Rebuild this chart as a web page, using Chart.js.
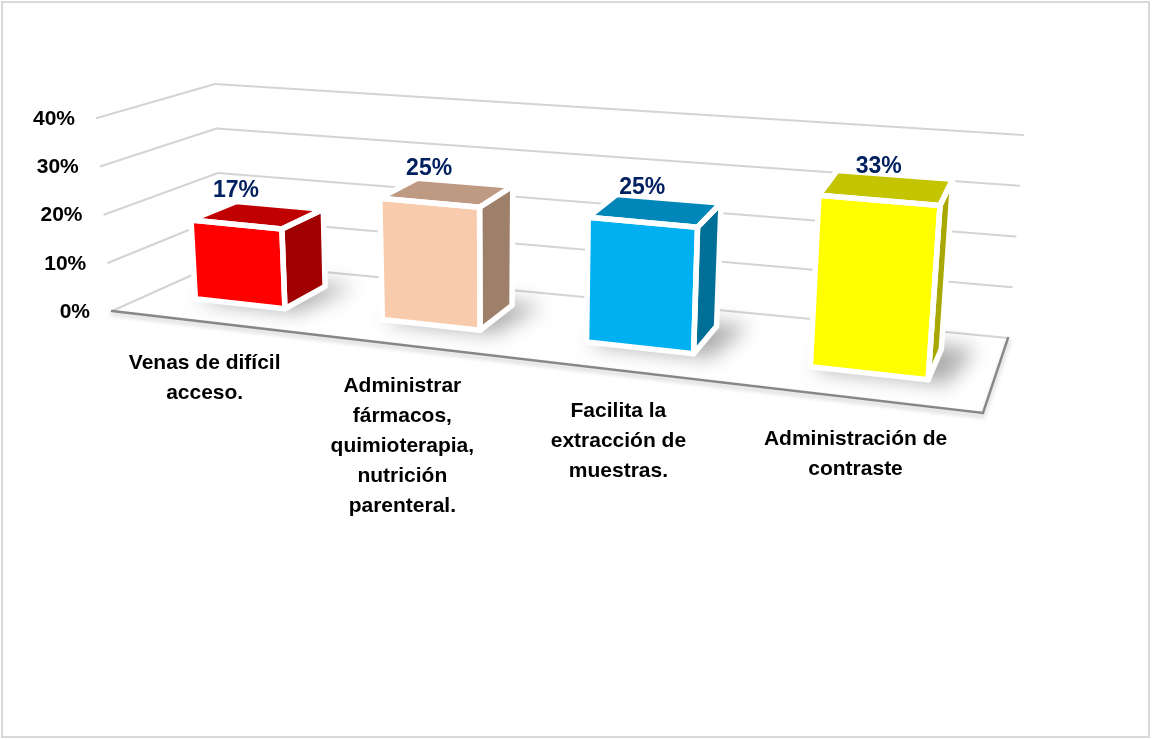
<!DOCTYPE html>
<html><head><meta charset="utf-8">
<script src="https://cdn.jsdelivr.net/npm/chart.js@4.4.1/dist/chart.umd.min.js"></script>
<style>html,body{margin:0;padding:0;background:#fff}canvas{display:block}</style>
</head><body>
<canvas id="c" width="1152" height="740"></canvas>
<script>
// ---- data ----
const categories = [
  ["Venas de difícil", "acceso."],
  ["Administrar", "fármacos,", "quimioterapia,", "nutrición", "parenteral."],
  ["Facilita la", "extracción de", "muestras."],
  ["Administración de", "contraste"]
];
const values = [16.67, 25, 25, 33.33];
const valueLabels = ["17%", "25%", "25%", "33%"];
const tickValues = [0, 10, 20, 30, 40];
const tickLabels = ["0%", "10%", "20%", "30%", "40%"];
const frontColors = ["#FF0000", "#F8CBAD", "#00B0F0", "#FFFF00"];
const topColors = ["#C00000", "#BF9A82", "#0086B8", "#C4C400"];
const sideColors = ["#A00000", "#9E806A", "#006F98", "#A8A800"];

// ---- 3D view (projection of the chart box) ----
const VIEW = {
  F0L: [112, 311], F0R: [983, 413], B0L: [221, 262], B0R: [1008, 338],
  F1L: [97, 118], F1R: [1000, 198], B1L: [215, 84], B1R: [1023, 135],
  k: 1.2, w0: 0.35, w1: 0.77
};
function lerp(a, b, t) { return [a[0] + (b[0] - a[0]) * t, a[1] + (b[1] - a[1]) * t]; }
function warp(u) { return u / (u + VIEW.k * (1 - u)); }
function P(u, v, w) {
  const s = warp(u);
  const f0 = lerp(VIEW.F0L, VIEW.F0R, s), b0 = lerp(VIEW.B0L, VIEW.B0R, s);
  const f1 = lerp(VIEW.F1L, VIEW.F1R, s), b1 = lerp(VIEW.B1L, VIEW.B1R, s);
  return lerp(lerp(f0, b0, w), lerp(f1, b1, w), v);
}
function poly(ctx, pts) {
  ctx.beginPath();
  ctx.moveTo(pts[0][0], pts[0][1]);
  for (let i = 1; i < pts.length; i++) ctx.lineTo(pts[i][0], pts[i][1]);
  ctx.closePath();
}
function line(ctx, a, b) { ctx.beginPath(); ctx.moveTo(a[0], a[1]); ctx.lineTo(b[0], b[1]); ctx.stroke(); }

const FONT = '"Liberation Sans", Arial, sans-serif';

const plugin3d = {
  id: 'p3d',
  beforeDraw(chart) {
    const ctx = chart.ctx, area = chart.chartArea, ys = chart.scales.y;
    const vf = val => (area.bottom - ys.getPixelForValue(val)) / area.height;
    ctx.save();
    ctx.fillStyle = '#fff';
    ctx.fillRect(0, 0, chart.width, chart.height);
    ctx.strokeStyle = '#D9D9D9'; ctx.lineWidth = 2;
    ctx.strokeRect(2, 2, 1147, 735);
    // walls gridlines
    ctx.strokeStyle = '#D4D4D4'; ctx.lineWidth = 2.2; ctx.lineCap = 'round';
    tickValues.forEach(t => {
      const v = vf(t);
      line(ctx, P(0, v, 0), P(0, v, 1));
      line(ctx, P(0, v, 1), P(1, v, 1));
    });
    // floor edges
    const a = P(0, 0, 0), b = P(1, 0, 0), c = P(1, 0, 1);
    ctx.save();
    ctx.filter = 'blur(2px)';
    ctx.strokeStyle = 'rgba(0,0,0,0.18)'; ctx.lineWidth = 3;
    ctx.beginPath(); ctx.moveTo(a[0], a[1] + 3); ctx.lineTo(b[0], b[1] + 3); ctx.lineTo(c[0] + 1, c[1] + 3); ctx.stroke();
    ctx.restore();
    ctx.strokeStyle = '#878787'; ctx.lineWidth = 2.4;
    ctx.beginPath();
    ctx.moveTo(a[0], a[1]); ctx.lineTo(b[0], b[1]); ctx.lineTo(c[0], c[1]);
    ctx.stroke();
    ctx.restore();
  },
  beforeDatasetsDraw(chart) {
    const ctx = chart.ctx, area = chart.chartArea;
    const meta = chart.getDatasetMeta(0);
    const w0 = VIEW.w0, w1 = VIEW.w1;
    meta.data.forEach((el, i) => {
      const ua = (el.x - el.width / 2 - area.left) / area.width;
      const ub = (el.x + el.width / 2 - area.left) / area.width;
      const v = (area.bottom - el.y) / area.height;
      // shadow on floor
      ctx.save();
      ctx.filter = 'blur(10px)';
      ctx.fillStyle = 'rgba(0,0,0,0.32)';
      poly(ctx, [P(ua + 0.005, 0, w0 - 0.03), P(ub + 0.02, 0, w0 - 0.03), P(ub + 0.035, 0, w1 + 0.05), P(ua + 0.01, 0, w1 + 0.05)]);
      ctx.fill();
      ctx.restore();

      const front = [P(ua, 0, w0), P(ub, 0, w0), P(ub, v, w0), P(ua, v, w0)];
      const side = [P(ub, 0, w0), P(ub, 0, w1), P(ub, v, w1), P(ub, v, w0)];
      const top = [P(ua, v, w0), P(ub, v, w0), P(ub, v, w1), P(ua, v, w1)];
      ctx.save();
      ctx.fillStyle = sideColors[i]; poly(ctx, side); ctx.fill();
      ctx.fillStyle = topColors[i]; poly(ctx, top); ctx.fill();
      ctx.fillStyle = frontColors[i]; poly(ctx, front); ctx.fill();
      ctx.strokeStyle = '#FFFFFF'; ctx.lineWidth = 5.5; ctx.lineJoin = 'round';
      [side, top, front].forEach(f => { poly(ctx, f); ctx.stroke(); });
      ctx.restore();

      // value label
      const lp = P((ua + ub) / 2, v, w0);
      ctx.save();
      ctx.font = 'bold 23px ' + FONT;
      ctx.fillStyle = '#002060';
      ctx.textAlign = 'center'; ctx.textBaseline = 'middle';
      ctx.fillText(valueLabels[i], lp[0], lp[1] - 34);
      ctx.restore();
    });
    return false;
  },
  afterDraw(chart) {
    const ctx = chart.ctx, area = chart.chartArea, xs = chart.scales.x, ys = chart.scales.y;
    const vf = val => (area.bottom - ys.getPixelForValue(val)) / area.height;
    ctx.save();
    ctx.fillStyle = '#000';
    ctx.font = 'bold 21px ' + FONT;
    ctx.textAlign = 'right'; ctx.textBaseline = 'middle';
    tickValues.forEach((t, i) => {
      const p = P(0, vf(t), 0);
      ctx.fillText(tickLabels[i], p[0] - 22, p[1] + 1);
    });
    ctx.textAlign = 'center';
    categories.forEach((lines, i) => {
      const u = (xs.getPixelForValue(i) - area.left) / area.width;
      const p = P(u, 0, 0);
      lines.forEach((ln, j) => ctx.fillText(ln, p[0], p[1] + 41 + j * 30));
    });
    ctx.restore();
  }
};

new Chart(document.getElementById('c'), {
  type: 'bar',
  data: {
    labels: categories.map(l => l.join(' ')),
    datasets: [{ data: values, backgroundColor: frontColors, categoryPercentage: 1, barPercentage: 0.49 }]
  },
  options: {
    responsive: false,
    animation: false,
    layout: { padding: 0 },
    plugins: { legend: { display: false }, tooltip: { enabled: false } },
    scales: {
      x: { display: false },
      y: { display: false, min: 0, max: 40 }
    }
  },
  plugins: [plugin3d]
});
</script>
</body></html>
